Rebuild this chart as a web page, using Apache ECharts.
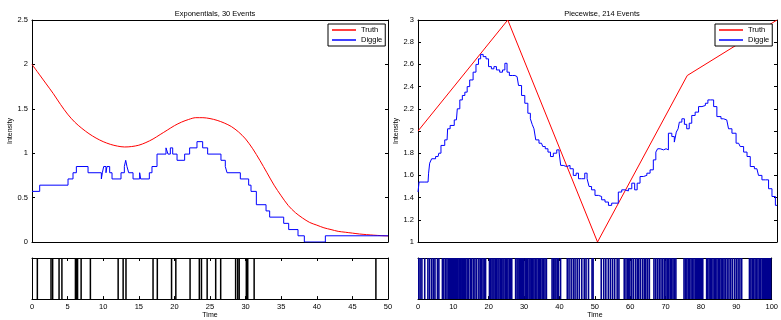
<!DOCTYPE html>
<html><head><meta charset="utf-8">
<script src="https://cdn.jsdelivr.net/npm/echarts@6/dist/echarts.min.js"></script>
<style>html,body{margin:0;padding:0;background:#fff}#c{width:781px;height:320px}</style>
</head><body><div id="c"></div>
<script>
// ---------- Data ----------
const titleL = 'Exponentials, 30 Events';
const titleR = 'Piecewise, 214 Events';
const legendNames = ['Truth', 'Diggle'];

// Left panel: truth curve
const truthLT = [0,1,2,3,4,5,6,7,8,9,10,11,12,13,14,15,16,17,18,19,20,21,22,23,24,25,26,27,28,29,30,31,32,33,34,35,36,37,38,39,40,41,42,43,44,45,46,47,48,49,50];
const truthLV = [2.00,1.89,1.78,1.67,1.55,1.44,1.35,1.28,1.22,1.17,1.13,1.10,1.08,1.07,1.075,1.09,1.12,1.16,1.21,1.26,1.31,1.35,1.38,1.40,1.40,1.39,1.37,1.34,1.30,1.24,1.16,1.05,0.92,0.78,0.64,0.52,0.41,0.33,0.27,0.22,0.19,0.16,0.14,0.12,0.11,0.10,0.09,0.083,0.077,0.072,0.068];

// Left panel: Diggle step estimate (value holds from t until next t)
const diggleLT = [0,1.08,5.06,5.76,6.23,7.87,9.74,9.88,10.07,10.39,10.53,10.91,11.24,12.5,12.97,13.16,13.34,13.58,14.19,15.12,15.26,16.48,16.85,17.56,18.82,19.1,19.43,19.76,20.37,21.44,22.14,23.17,23.97,24.67,26.54,27.15,27.39,29.26,30.43,30.76,31.51,32.87,33.38,35.35,36.05,37.36,38.25,41.2,50];
const diggleLV = [0.57,0.64,0.71,0.78,0.85,0.78,0.71,0.78,0.85,0.78,0.85,0.78,0.71,0.78,0.85,0.92,0.85,0.78,0.71,0.78,0.71,0.78,0.85,0.99,1.06,0.99,1.06,0.99,0.92,0.99,1.06,1.13,1.06,0.99,0.92,0.85,0.78,0.71,0.64,0.57,0.42,0.35,0.28,0.21,0.14,0.07,0.00,0.07,0.07];

// Left panel: event times
const eventsL = [0.75,2.67,2.9,3.8,4.2,6.1,6.25,6.4,6.9,8.2,12.1,12.8,13.2,17.0,17.6,19.6,20.2,22.2,23.5,23.8,24.6,25.8,26.5,28.6,28.9,29.1,30.1,30.3,31.2,48.3];

// Right panel: truth (piecewise linear)
const truthRT = [0,25,50,75,100];
const truthRV = [2.0,3.0,1.0,2.5,3.0];

// Right panel: Diggle estimate
const diggleRT = [0,0.6,2.8,3.1,3.4,4.2,5.6,6.0,6.8,8.1,8.4,9.5,10.7,11.2,12.1,12.6,13.5,13.9,14.9,15.8,16.5,17.2,17.7,18.6,19.3,20.0,20.9,21.4,22.3,23.2,23.9,24.5,25.1,25.8,27.0,27.6,28.4,29.3,30.2,31.0,31.6,32.0,32.6,33.0,34.4,35.1,35.8,36.6,37.2,38.2,39.1,39.5,40.0,40.9,41.9,42.8,43.7,44.4,45.0,46.1,46.8,47.4,47.9,48.8,49.8,50.7,51.6,52.6,53.5,54.4,55.3,56.3,57.2,58.1,59.1,60.0,60.7,61.4,62.3,63.3,64.2,65.1,66.0,66.5,67.0,67.9,68.9,69.3,70.2,71.2,71.6,72.3,72.6,73.0,74.0,74.4,75.3,75.8,76.7,77.7,78.6,79.6,80.5,81.0,81.9,82.8,83.7,85.1,86.0,87.0,87.9,89.3,90.2,91.2,92.1,93.0,94.4,95.3,96.3,97.2,98.1,99.1,100];
const diggleRV = [1.45,1.54,1.54,1.62,1.71,1.75,1.77,1.80,1.87,1.92,2.02,2.05,2.10,2.20,2.28,2.32,2.35,2.40,2.46,2.53,2.60,2.65,2.69,2.67,2.65,2.58,2.56,2.58,2.55,2.53,2.55,2.61,2.53,2.50,2.50,2.49,2.41,2.32,2.25,2.16,2.11,2.06,2.02,1.92,1.89,1.86,1.84,1.81,1.77,1.80,1.83,1.81,1.69,1.68,1.69,1.66,1.60,1.62,1.57,1.57,1.62,1.57,1.50,1.47,1.42,1.41,1.38,1.36,1.33,1.35,1.35,1.45,1.47,1.46,1.48,1.53,1.47,1.53,1.59,1.60,1.62,1.65,1.74,1.81,1.84,1.83,1.84,1.83,1.98,1.95,1.90,1.99,2.02,2.08,2.11,2.06,2.02,2.07,2.14,2.17,2.22,2.23,2.25,2.28,2.28,2.22,2.13,2.11,2.10,2.02,1.98,1.89,1.86,1.81,1.77,1.68,1.66,1.60,1.56,1.56,1.48,1.41,1.33];

// Right panel: event times (214)
const eventsR = [
0.2,0.6,1.1,1.9,2.8,3.3,3.9,4.4,4.8,5.5,5.9,6.9,7.3,7.8,8.2,8.6,8.9,9.1,9.3,9.5,9.7,9.9,
10.1,10.3,10.5,10.7,10.9,11.1,11.3,11.6,11.8,12.0,12.2,12.5,12.7,12.9,13.2,13.5,13.9,14.3,14.8,15.2,15.7,16.1,16.6,17.2,17.6,18.0,18.4,18.8,19.1,
20.2,20.5,20.9,21.2,21.5,21.9,22.2,22.6,22.9,23.3,23.6,24.0,24.3,24.7,25.0,25.4,25.8,26.1,26.5,27.6,28.0,28.3,28.7,29.0,29.3,29.6,29.9,
30.3,30.6,31.0,31.4,31.7,32.1,32.3,32.5,32.8,33.2,33.6,34.0,34.3,34.7,35.1,35.5,35.9,36.3,37.9,38.3,38.7,39.0,39.4,39.7,
40.3,42.2,42.7,43.3,43.9,44.4,45.0,45.6,46.3,47.0,47.5,48.2,49.2,49.5,
51.8,52.5,53.1,53.8,54.4,55.0,55.6,56.3,56.8,58.3,58.8,59.3,59.6,59.9,
60.4,60.9,61.5,62.0,62.4,62.9,63.5,64.0,64.4,64.9,65.4,66.7,67.2,67.7,68.2,68.7,69.2,69.7,
70.1,70.5,70.9,71.3,71.7,72.1,72.5,72.9,75.2,75.6,76.0,76.4,76.8,77.2,77.6,78.0,78.4,78.7,79.0,79.3,79.6,79.9,
80.2,80.5,81.6,81.9,82.3,82.7,83.0,83.4,83.8,84.1,84.5,84.9,85.3,85.7,86.1,86.5,86.9,87.4,87.9,88.4,88.9,89.5,
90.0,90.5,91.0,91.5,93.7,94.1,94.5,94.9,95.3,95.7,96.1,96.5,96.9,97.3,97.6,97.9,98.2,98.5,98.8,99.1,99.4,99.7];

// ---------- Chart ----------
const FONT = '"Liberation Sans", Arial, Helvetica, sans-serif';
const FS = 7.5;
const zip = (a, b) => a.map((v, i) => [v, b[i]]);

const grids = [
  {left: 32, top: 20, width: 356, height: 222},
  {left: 32, top: 258, width: 356, height: 44},
  {left: 418, top: 20, width: 359, height: 222},
  {left: 418, top: 258, width: 359, height: 44}
];

function xAx(grid, max, pos, opts) {
  return Object.assign({
    type: 'value', gridIndex: grid, min: 0, max: max, position: pos,
    axisLine: {show: true, onZero: false, lineStyle: {color: '#000', width: 1}},
    axisTick: {show: false}, axisLabel: {show: false}, splitLine: {show: false}
  }, opts || {});
}
function yAx(grid, min, max, pos, opts) {
  return Object.assign({
    type: 'value', gridIndex: grid, min: min, max: max, position: pos,
    axisLine: {show: true, onZero: false, lineStyle: {color: '#000', width: 1}},
    axisTick: {show: false}, axisLabel: {show: false}, splitLine: {show: false}
  }, opts || {});
}
const tickIn = {show: true, inside: true, length: 3, lineStyle: {color: '#000', width: 1}};
const lab = {show: true, color: '#000', fontSize: FS, fontFamily: FONT, margin: 4};
const nameSt = {fontSize: 7, fontFamily: FONT, color: '#000'};

const xAxis = [
  xAx(0, 50, 'bottom'), xAx(0, 50, 'top'),
  xAx(1, 50, 'bottom', {interval: 5, axisTick: tickIn, axisLabel: lab,
    name: 'Time', nameLocation: 'middle', nameGap: 11, nameTextStyle: nameSt}),
  xAx(1, 50, 'top', {interval: 5, axisTick: tickIn}),
  xAx(2, 100, 'bottom'), xAx(2, 100, 'top'),
  xAx(3, 100, 'bottom', {interval: 10, axisTick: tickIn, axisLabel: lab,
    name: 'Time', nameLocation: 'middle', nameGap: 11, nameTextStyle: nameSt}),
  xAx(3, 100, 'top', {interval: 10, axisTick: tickIn})
];
const yAxis = [
  yAx(0, 0, 2.5, 'left', {interval: 0.5, axisTick: tickIn, axisLabel: lab,
    name: 'Intensity', nameLocation: 'middle', nameGap: 18, nameRotate: 90, nameTextStyle: nameSt}),
  yAx(0, 0, 2.5, 'right', {interval: 0.5, axisTick: tickIn}),
  yAx(1, 0, 1, 'left'), yAx(1, 0, 1, 'right'),
  yAx(2, 1, 3, 'left', {interval: 0.2, axisTick: tickIn, axisLabel: lab,
    name: 'Intensity', nameLocation: 'middle', nameGap: 18, nameRotate: 90, nameTextStyle: nameSt}),
  yAx(2, 1, 3, 'right', {interval: 0.2, axisTick: tickIn}),
  yAx(3, 0, 1, 'left'), yAx(3, 0, 1, 'right')
];

function rug(xi, yi, events, color, w) {
  return {
    type: 'custom', xAxisIndex: xi, yAxisIndex: yi, silent: true, clip: true,
    data: events.map(t => [t]),
    encode: {x: 0},
    renderItem: function (params, api) {
      const t = api.value(0);
      const p0 = api.coord([t, 0]);
      const p1 = api.coord([t, 1]);
      return {type: 'line', shape: {x1: p0[0], y1: p0[1], x2: p1[0], y2: p1[1]},
        style: {stroke: color, lineWidth: w}};
    }
  };
}

const legendBase = {
  data: legendNames, orient: 'vertical', top: 24,
  icon: 'rect',
  backgroundColor: '#fff', borderColor: '#000', borderWidth: 1,
  padding: [2, 3, 2, 4], itemWidth: 24, itemHeight: 1.5, itemGap: 2,
  textStyle: {fontSize: FS, fontFamily: FONT, color: '#000'},
  selectedMode: false
};

const option = {
  backgroundColor: '#fff',
  animation: false,
  title: [
    {text: titleL, left: 210, top: 5, textAlign: 'center', textStyle: {fontSize: FS, fontWeight: 'normal', fontFamily: FONT, color: '#000'}},
    {text: titleR, left: 597, top: 5, textAlign: 'center', textStyle: {fontSize: FS, fontWeight: 'normal', fontFamily: FONT, color: '#000'}}
  ],
  legend: [
    Object.assign({}, legendBase, {left: 328}),
    Object.assign({}, legendBase, {left: 715})
  ],
  grid: grids,
  xAxis: xAxis,
  yAxis: yAxis,
  series: [
    {name: 'Truth', type: 'line', xAxisIndex: 0, yAxisIndex: 0, data: zip(truthLT, truthLV), symbol: 'none', smooth: 0.3,
      lineStyle: {color: '#ff0000', width: 1}, itemStyle: {color: '#ff0000'}},
    {name: 'Diggle', type: 'line', xAxisIndex: 0, yAxisIndex: 0, data: zip(diggleLT, diggleLV), symbol: 'none', step: 'end',
      lineStyle: {color: '#0000ff', width: 1}, itemStyle: {color: '#0000ff'}},
    rug(2, 2, eventsL, '#000000', 1.5),
    {name: 'Truth', type: 'line', xAxisIndex: 4, yAxisIndex: 4, data: zip(truthRT, truthRV), symbol: 'none',
      lineStyle: {color: '#ff0000', width: 1}, itemStyle: {color: '#ff0000'}},
    {name: 'Diggle', type: 'line', xAxisIndex: 4, yAxisIndex: 4, data: zip(diggleRT, diggleRV), symbol: 'none', step: 'middle',
      lineStyle: {color: '#0000ff', width: 1}, itemStyle: {color: '#0000ff'}},
    rug(6, 6, eventsR, '#00008f', 1.6)
  ]
};

const chart = echarts.init(document.getElementById('c'), null, {renderer: 'canvas'});
chart.setOption(option);
</script>
</body></html>
